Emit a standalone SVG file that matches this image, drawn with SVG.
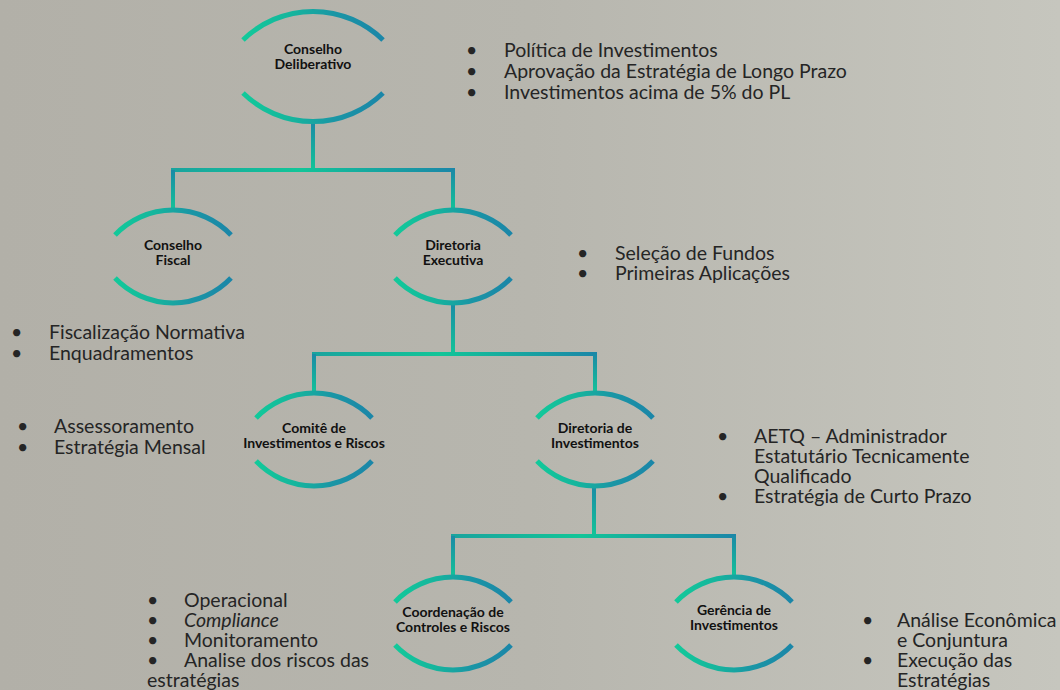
<svg xmlns="http://www.w3.org/2000/svg" width="1060" height="690" viewBox="0 0 1060 690">
<defs>
<linearGradient id="bg" x1="0" y1="0" x2="1" y2="0">
<stop offset="0" stop-color="#b2b0a8"/>
<stop offset="0.5" stop-color="#b7b6ae"/>
<stop offset="1" stop-color="#c6c6be"/>
</linearGradient>
<linearGradient id="ga" x1="0" y1="0" x2="1" y2="0">
<stop offset="0" stop-color="#12c99a"/>
<stop offset="0.35" stop-color="#15b59d"/>
<stop offset="0.65" stop-color="#1a96a5"/>
<stop offset="1" stop-color="#1b86a8"/>
</linearGradient>
<linearGradient id="gv" x1="0" y1="0" x2="0" y2="1">
<stop offset="0" stop-color="#1b8aa6"/>
<stop offset="1" stop-color="#13c598"/>
</linearGradient>
<linearGradient id="gh" x1="0" y1="0" x2="1" y2="0">
<stop offset="0" stop-color="#1aa39e"/>
<stop offset="0.45" stop-color="#12c598"/>
<stop offset="1" stop-color="#1b86a8"/>
</linearGradient>
<style>
.arc{fill:none;stroke:url(#ga);stroke-width:5}
.lbl{font-family:Lato,"Liberation Sans",sans-serif;font-weight:bold;font-size:14px;fill:#111;text-anchor:middle}
.bt{font-family:Lato,"Liberation Sans",sans-serif;font-size:19.5px;fill:#252525}
.v{fill:url(#gv)}
.h{fill:url(#gh)}
</style>
</defs>
<rect width="1060" height="690" fill="url(#bg)"/>

<g id="connectors">
<rect class="v" x="311" y="122" width="4" height="48"/>
<rect class="h" x="171" y="168" width="284" height="4"/>
<rect class="v" x="171" y="170" width="4" height="41"/>
<rect class="v" x="451" y="170" width="4" height="41"/>

<rect class="v" x="451" y="302" width="4" height="52"/>
<rect class="h" x="312" y="352" width="285" height="4"/>
<rect class="v" x="312" y="354" width="4" height="40"/>
<rect class="v" x="593" y="354" width="4" height="40"/>

<rect class="v" x="592" y="485" width="4" height="51"/>
<rect class="h" x="451" y="534" width="285" height="4"/>
<rect class="v" x="451" y="536" width="4" height="42"/>
<rect class="v" x="732" y="536" width="4" height="42"/>
</g>

<g id="n-conselho-deliberativo">
<path class="arc" d="M243 40 A100 100 0 0 1 383 40"/>
<path class="arc" d="M243 93 A100 100 0 0 0 383 93"/>
<text class="lbl" x="313" y="54">Conselho</text>
<text class="lbl" x="313" y="69">Deliberativo</text>
</g>

<g id="n-conselho-fiscal">
<path class="arc" d="M115 235 A80 80 0 0 1 231 235"/>
<path class="arc" d="M115 278 A80 80 0 0 0 231 278"/>
<text class="lbl" x="173" y="250">Conselho</text>
<text class="lbl" x="173" y="265">Fiscal</text>
</g>

<g id="n-diretoria-executiva">
<path class="arc" d="M395 235 A80 80 0 0 1 511 235"/>
<path class="arc" d="M395 278 A80 80 0 0 0 511 278"/>
<text class="lbl" x="453" y="250">Diretoria</text>
<text class="lbl" x="453" y="265">Executiva</text>
</g>

<g id="n-comite">
<path class="arc" d="M256 418 A80 80 0 0 1 372 418"/>
<path class="arc" d="M256 461 A80 80 0 0 0 372 461"/>
<text class="lbl" x="314" y="433">Comitê de</text>
<text class="lbl" x="314" y="448">Investimentos e Riscos</text>
</g>

<g id="n-diretoria-investimentos">
<path class="arc" d="M537 418 A80 80 0 0 1 653 418"/>
<path class="arc" d="M537 461 A80 80 0 0 0 653 461"/>
<text class="lbl" x="595" y="433">Diretoria de</text>
<text class="lbl" x="595" y="448">Investimentos</text>
</g>

<g id="n-coordenacao">
<path class="arc" d="M395 602 A80 80 0 0 1 511 602"/>
<path class="arc" d="M395 645 A80 80 0 0 0 511 645"/>
<text class="lbl" x="453" y="617">Coordenação de</text>
<text class="lbl" x="453" y="632">Controles e Riscos</text>
</g>

<g id="n-gerencia">
<path class="arc" d="M676 602 A80 80 0 0 1 792 602"/>
<path class="arc" d="M676 645 A80 80 0 0 0 792 645"/>
<text class="lbl" x="734" y="615">Gerência de</text>
<text class="lbl" x="734" y="630">Investimentos</text>
</g>

<g id="notes">
<text class="bt"><tspan x="466" y="57">•</tspan><tspan x="504" y="57">Política de Investimentos</tspan><tspan x="466" y="78">•</tspan><tspan x="504" y="78">Aprovação da Estratégia de Longo Prazo</tspan><tspan x="466" y="99">•</tspan><tspan x="504" y="99">Investimentos acima de 5% do PL</tspan></text>
<text class="bt"><tspan x="577" y="260">•</tspan><tspan x="615" y="260">Seleção de Fundos</tspan><tspan x="577" y="280">•</tspan><tspan x="615" y="280">Primeiras Aplicações</tspan></text>
<text class="bt"><tspan x="11" y="339">•</tspan><tspan x="49" y="339">Fiscalização Normativa</tspan><tspan x="11" y="360">•</tspan><tspan x="49" y="360">Enquadramentos</tspan></text>
<text class="bt"><tspan x="17" y="433">•</tspan><tspan x="54" y="433">Assessoramento</tspan><tspan x="17" y="454">•</tspan><tspan x="54" y="454">Estratégia Mensal</tspan></text>
<text class="bt"><tspan x="717" y="443">•</tspan><tspan x="754" y="443">AETQ – Administrador</tspan><tspan x="754" y="463">Estatutário Tecnicamente</tspan><tspan x="754" y="483">Qualificado</tspan><tspan x="717" y="503">•</tspan><tspan x="754" y="503">Estratégia de Curto Prazo</tspan></text>
<text class="bt"><tspan x="147" y="607">•</tspan><tspan x="184" y="607">Operacional</tspan><tspan x="147" y="627">•</tspan><tspan x="184" y="627" font-style="italic">Compliance</tspan><tspan x="147" y="647">•</tspan><tspan x="184" y="647">Monitoramento</tspan><tspan x="147" y="667">•</tspan><tspan x="184" y="667">Analise dos riscos das</tspan><tspan x="147" y="687">estratégias</tspan></text>
<text class="bt"><tspan x="862" y="627">•</tspan><tspan x="897" y="627">Análise Econômica</tspan><tspan x="897" y="647">e Conjuntura</tspan><tspan x="862" y="667">•</tspan><tspan x="897" y="667">Execução das</tspan><tspan x="897" y="687">Estratégias</tspan></text>
</g>
</svg>
